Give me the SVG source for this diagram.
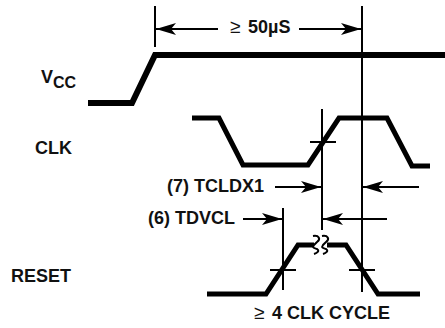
<svg xmlns="http://www.w3.org/2000/svg" width="445" height="328" viewBox="0 0 445 328">
<style>
text{font-family:"Liberation Sans",Arial,sans-serif;font-weight:bold;font-size:18px;fill:#111}
.g{font-weight:normal;font-size:19px}
.s{fill:none;stroke:#000;stroke-width:5;stroke-linejoin:miter}
.t{fill:none;stroke:#000;stroke-width:2}
.w{fill:none;stroke:#000;stroke-width:2}
</style>
<defs>
<marker id="a" markerUnits="userSpaceOnUse" markerWidth="20" markerHeight="12" refX="20" refY="6" orient="auto"><path d="M0 0L20 6L0 12L5 6Z" fill="#000"/></marker>
</defs>
<g id="connectors">
<path class="t" d="M155 6V47M362 6V292M322 109V230M283 208V290"/>
<path class="t" d="M310 142H336M270 270H296M349 270H375"/>
<path class="t" marker-end="url(#a)" d="M218 29H156"/>
<path class="t" marker-end="url(#a)" d="M299 29H361"/>
<path class="t" marker-end="url(#a)" d="M275 187H321"/>
<path class="t" marker-end="url(#a)" d="M419 187H363"/>
<path class="t" marker-end="url(#a)" d="M243 219H282"/>
<path class="t" marker-end="url(#a)" d="M387 219H323"/>
</g>
<g id="vcc"><path class="s" style="stroke-width:6" d="M88 103H132L155 55H445"/><text x="41" y="83">V<tspan font-size="16" dy="5">CC</tspan></text></g>
<g id="clk"><path class="s" d="M192 118H219L243 165H308L339 118H387L412 166H430"/><text x="35" y="154">CLK</text></g>
<g id="reset"><path class="s" d="M207 294H266L298 245H314M327 245H346L378 294H420"/><path class="w" d="M313 236C319 235 321 239 317 242L314 245C312 248 314 248 317 249C320 251 317 253 314 254M322 236C328 235 330 239 326 242L323 245C321 248 323 248 326 249C329 251 326 253 323 254"/><text x="11" y="282">RESET</text></g>
<g id="labels">
<text class="g" x="230" y="33">≥</text><text x="248" y="33">50µS</text>
<text x="167" y="192">(7) TCLDX1</text>
<text x="148" y="224">(6) TDVCL</text>
<text class="g" x="254" y="319">≥</text><text x="272" y="319">4 CLK CYCLE</text>
</g>
</svg>
